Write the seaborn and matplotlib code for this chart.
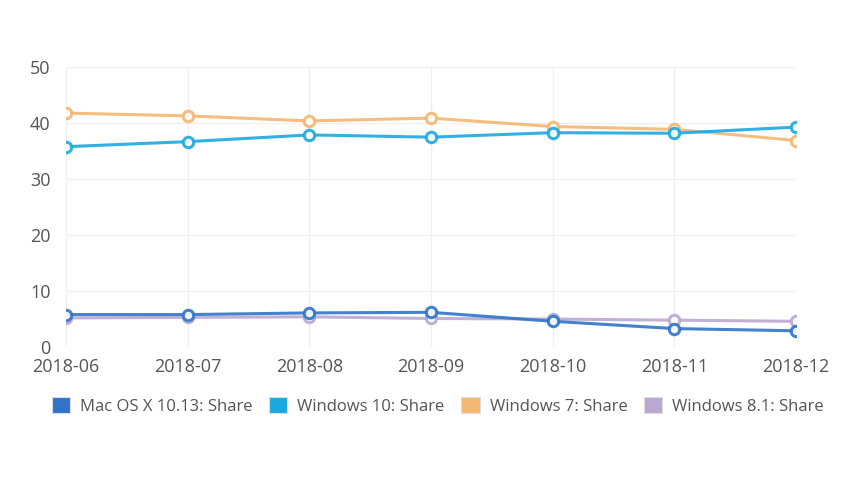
import numpy as np
import pandas as pd
import matplotlib.pyplot as plt
import seaborn as sns

MONTHS = ["2018-06", "2018-07", "2018-08", "2018-09", "2018-10", "2018-11", "2018-12"]

MAC_OS_1013 = [5.8, 5.8, 6.1, 6.2, 4.6, 3.3, 2.9]
WINDOWS_10 = [35.8, 36.7, 37.9, 37.5, 38.3, 38.2, 39.3]
WINDOWS_7 = [41.8, 41.3, 40.4, 40.9, 39.4, 38.9, 36.9]
WINDOWS_81 = [5.2, 5.3, 5.4, 5.1, 5.0, 4.8, 4.6]

SERIES = {
    "Mac OS X 10.13: Share": MAC_OS_1013,
    "Windows 10: Share": WINDOWS_10,
    "Windows 7: Share": WINDOWS_7,
    "Windows 8.1: Share": WINDOWS_81,
}

COLORS = {
    "Mac OS X 10.13: Share": "#2f74c8",
    "Windows 10: Share": "#1ba8df",
    "Windows 7: Share": "#f4b670",
    "Windows 8.1: Share": "#b8a8d2",
}

Y_TICKS = [0, 10, 20, 30, 40, 50]


def main():
    rows = []
    for name, vals in SERIES.items():
        for i, v in enumerate(vals):
            rows.append({"Month": i, "Series": name, "Share": v})
    df = pd.DataFrame(rows)

    sns.set_theme(style="white")
    plt.rcParams["font.family"] = ["Open Sans", "DejaVu Sans"]

    fig = plt.figure(figsize=(8.5, 4.8), dpi=100)
    ax = fig.add_axes([0.0776, 0.277, 0.859, 0.583])

    # lighter series first so the blue ones sit on top where they overlap
    draw_order = ["Windows 8.1: Share", "Windows 7: Share", "Mac OS X 10.13: Share", "Windows 10: Share"]
    for name in draw_order:
        sub = df[df["Series"] == name]
        sns.lineplot(
            data=sub,
            x="Month",
            y="Share",
            color=COLORS[name],
            linewidth=2.2,
            marker="o",
            markersize=7.5,
            markerfacecolor="white",
            markeredgecolor=COLORS[name],
            markeredgewidth=2.2,
            alpha=0.9,
            ax=ax,
            legend=False,
        )

    ax.set_xlim(0, len(MONTHS) - 1)
    ax.set_ylim(0, 50)
    ax.set_xticks(range(len(MONTHS)))
    ax.set_xticklabels(MONTHS)
    ax.set_yticks(Y_TICKS)
    ax.set_xlabel("")
    ax.set_ylabel("")

    ax.grid(True, color="#f0f0f0", linewidth=1)
    ax.set_axisbelow(True)
    for s in ax.spines.values():
        s.set_visible(False)

    ax.tick_params(axis="x", colors="#555555", labelsize=13, length=0, pad=8)
    ax.tick_params(axis="y", colors="#555555", labelsize=13, length=0, pad=11)
    for lab in ax.get_xticklabels() + ax.get_yticklabels():
        lab.set_color("#555555")

    handles = [
        plt.Rectangle((0, 0), 1, 1, facecolor=COLORS[n], edgecolor="#dddddd", linewidth=0.8)
        for n in SERIES
    ]
    fig.legend(
        handles,
        list(SERIES.keys()),
        loc="center",
        bbox_to_anchor=(0.515, 0.154),
        ncol=4,
        frameon=False,
        fontsize=12,
        handlelength=1.1,
        handleheight=1.1,
        handletextpad=0.6,
        columnspacing=1.0,
        labelcolor="#555555",
    )

    fig.savefig("out.png", dpi=100)
    plt.close(fig)


if __name__ == "__main__":
    main()
